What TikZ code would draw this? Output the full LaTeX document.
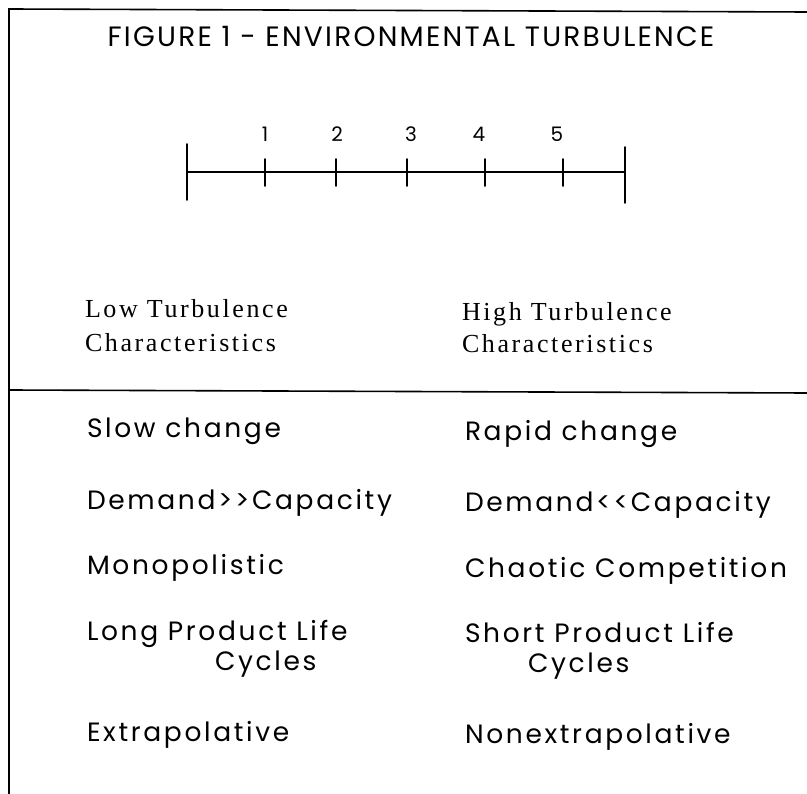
\documentclass[tikz,border=0pt]{standalone}
\usepackage{fontspec}
\newfontfamily\gothic[LetterSpace=10]{Poppins}
\newfontfamily\gothictitle[LetterSpace=8]{Poppins}
\newfontfamily\serifsp[LetterSpace=10]{Liberation Serif}
\begin{document}
\begin{tikzpicture}[x=1pt,y=-1pt,
  every node/.style={inner sep=0pt, outer sep=0pt},
  item/.style={anchor=base west, font=\gothic\fontsize{26.5}{32}\selectfont},
  head/.style={anchor=base west, font=\serifsp\fontsize{26}{30}\selectfont},
  num/.style={anchor=base, font=\gothic\fontsize{20}{24}\selectfont},
  titlefont/.style={anchor=base, font=\gothictitle\fontsize{28}{32}\selectfont},
  thickline/.style={line width=1.6pt, line cap=round}]
\useasboundingbox (0,0) rectangle (807,794);
\fill[white] (0,0) rectangle (807,794);
% frame
\coordinate (tl) at (9,9);
\coordinate (tr) at (807,12);
\coordinate (bl) at (9,794);
\draw[thickline] (bl) -- (tl) -- (tr);
% title
\node[titlefont] (title) at (411,47) {FIGURE 1 - ENVIRONMENTAL TURBULENCE};
% scale
\coordinate (s0) at (187,172);
\coordinate (s6) at (625,172);
\coordinate (t1) at (265,172);
\coordinate (t2) at (336,172);
\coordinate (t3) at (407,172);
\coordinate (t4) at (485,172);
\coordinate (t5) at (563,172);
\draw[thickline] (s0) -- (s6);
\draw[thickline] (s0) ++(0,-28) -- ++(0,56);
\draw[thickline] (s6) ++(0,-25) -- ++(0,56);
\foreach \t in {t1,t2,t3,t4,t5}{\draw[thickline] (\t) ++(0,-13) -- ++(0,27);}
\node[num] (n1) at (265,142) {1};
\node[num] (n2) at (337,142) {2};
\node[num] (n3) at (411,142) {3};
\node[num] (n4) at (479,142) {4};
\node[num] (n5) at (557,142) {5};
% headers
\node[head] (lowa) at (85,318) {Low Turbulence};
\node[head] (lowb) at (85,352) {Characteristics};
\node[head] (higha) at (462,321) {High Turbulence};
\node[head] (highb) at (462,353) {Characteristics};
% rule
\coordinate (ra) at (9,390);
\coordinate (rb) at (807,393);
\draw[thickline] (ra) -- (rb);
% items
\node[item] (l1) at (87,438) {Slow change};
\node[item] (r1) at (465,441) {Rapid change};
\node[item] (l2) at (87,510) {Demand>{}>Capacity};
\node[item] (r2) at (465,512) {Demand<{}<Capacity};
\node[item] (l3) at (87,575) {Monopolistic};
\node[item] (r3) at (465,577) {Chaotic Competition};
\node[item] (l4a) at (87,640) {Long Product Life};
\node[item] (l4b) at (215,670) {Cycles};
\node[item] (r4a) at (465,642) {Short Product Life};
\node[item] (r4b) at (528,672) {Cycles};
\node[item] (l5) at (87,741) {Extrapolative};
\node[item] (r5) at (465,743) {Nonextrapolative};
\end{tikzpicture}
\end{document}
